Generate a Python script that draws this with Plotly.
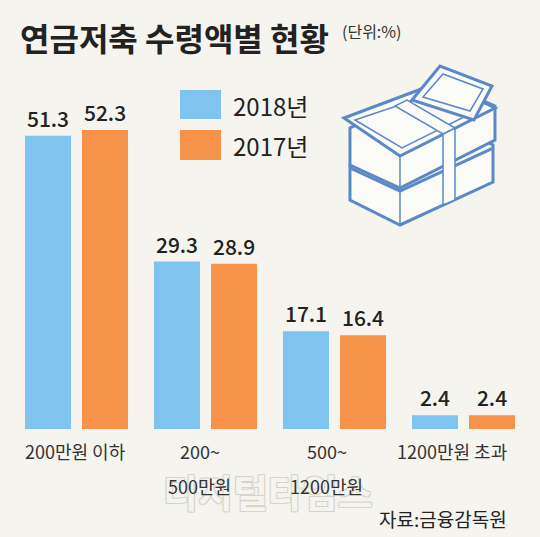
import plotly.graph_objects as go

# data
categories = ["200만원 이하", "200~500만원", "500~1200만원", "1200만원 초과"]
tick_line1 = ["200만원 이하", "200~", "500~", "1200만원 초과"]
tick_line2 = ["", "500만원", "1200만원", ""]
values_2018 = [51.3, 29.3, 17.1, 2.4]
values_2017 = [52.3, 28.9, 16.4, 2.4]

BG = "#f5f4ee"
BLUE = "#7ec4ef"
ORANGE = "#f7924a"
INK = "#5b89c7"
FONT = "Noto Sans CJK KR"

# plot area in pixels (540x537 canvas)
L, R, T, B = 12, 12, 86, 108
W, H = 540, 537
PW, PH = W - L - R, H - T - B

# the source's category labels sit a little left of each group's centre
label_shift = [-1, -6, -8, -12]


def px(x, y):
    # pixel position -> paper coords
    return (x - L) / PW, (H - B - y) / PH


def path(points, close=True):
    parts = []
    for i, (x, y) in enumerate(points):
        u, v = px(x, y)
        parts.append(("M" if i == 0 else "L") + f"{u:.4f},{v:.4f}")
    return " ".join(parts) + (" Z" if close else "")


fig = go.Figure()

fig.add_trace(
    go.Bar(
        x=categories,
        y=values_2018,
        name="2018년",
        marker=dict(color=BLUE, line_width=0),
        text=[f"{v:.1f}" for v in values_2018],
        textposition="outside",
        textfont=dict(family=FONT, size=21, color="#222", weight=500),
        cliponaxis=False,
    )
)
fig.add_trace(
    go.Bar(
        x=categories,
        y=values_2017,
        name="2017년",
        marker=dict(color=ORANGE, line_width=0),
        text=[f"{v:.1f}" for v in values_2017],
        textposition="outside",
        textfont=dict(family=FONT, size=21, color="#222", weight=500),
        cliponaxis=False,
    )
)

# money stack illustration
shapes = []
line = dict(color=INK, width=3)
thin = dict(color=INK, width=1.5)
# bottom bundle
shapes.append(dict(type="path", path=path([(350, 165), (350, 200), (400, 225), (493, 182), (493, 145), (443, 122)]),
                   line=line, fillcolor="#fbfbf8"))
shapes.append(dict(type="path", path=path([(350, 168), (400, 191), (493, 148)], close=False), line=line))
shapes.append(dict(type="path", path=path([(400, 191), (400, 225)], close=False), line=thin))
# top bundle
shapes.append(dict(type="path", path=path([(350, 128), (350, 165), (400, 188), (495, 140), (495, 106), (445, 84)]),
                   line=line, fillcolor="#fbfbf8"))
shapes.append(dict(type="path", path=path([(400, 155), (400, 188)], close=False), line=thin))
# flat bill on top
shapes.append(dict(type="path", path=path([(344, 118), (400, 156), (495, 108), (440, 82)]),
                   line=line, fillcolor="#fbfbf8"))
shapes.append(dict(type="path", path=path([(355, 120), (402, 148), (478, 110), (438, 92)]),
                   line=thin))
# raised bill
shapes.append(dict(type="path", path=path([(412, 100), (440, 66), (492, 86), (474, 120)]),
                   line=line, fillcolor="#fbfbf8"))
shapes.append(dict(type="path", path=path([(423, 97), (443, 74), (483, 89), (470, 111)]),
                   line=thin))
# band
shapes.append(dict(type="path", path=path([(443, 134), (455, 128), (455, 200), (443, 205)]),
                   line=thin, fillcolor="#fbfbf8"))
shapes.append(dict(type="path", path=path([(443, 134), (455, 128), (407, 100), (395, 106)]),
                   line=thin, fillcolor="#fbfbf8"))

# legend swatches
for (y0, y1), col in [((90, 119), BLUE), ((130, 160), ORANGE)]:
    u0, v0 = px(180, y1)
    u1, v1 = px(221, y0)
    shapes.append(dict(type="rect", xref="paper", yref="paper", x0=u0, x1=u1, y0=v0, y1=v1,
                       fillcolor=col, line_width=0))

for s in shapes:
    s.setdefault("xref", "paper")
    s.setdefault("yref", "paper")
    s["layer"] = "above"

annotations = []


def note(text, x, y, size, color="#222", weight=400, xanchor="left", **kw):
    u, v = px(x, y)
    annotations.append(dict(text=text, x=u, y=v, xref="paper", yref="paper",
                            xanchor=xanchor, yanchor="middle", showarrow=False,
                            font=dict(family=FONT, size=size, color=color, weight=weight, **kw)))


# watermark
edge = "#d6d4ca"
note("디지털타임스", 268, 490, 38, color=BG, weight=700, xanchor="center",
     shadow=f"-1px -1px 0 {edge}, 1px -1px 0 {edge}, -1px 1px 0 {edge}, 1px 1px 0 {edge}")

note("연금저축 수령액별 현황", 18, 37, 32, weight=700)
note("(단위:%)", 340, 31, 16, color="#333")
note("2018년", 231, 105, 24)
note("2017년", 231, 145, 24)
note("자료:금융감독원", 377, 518, 19, color="#222")

# category labels, two lines
for cat, t1, t2, dx in zip(categories, tick_line1, tick_line2, label_shift):
    for txt, dy in [(t1, -22), (t2, -57)]:
        if txt:
            annotations.append(dict(text=txt, x=cat, y=0, xref="x", yref="y",
                                    xshift=dx, yshift=dy,
                                    xanchor="center", yanchor="middle", showarrow=False,
                                    font=dict(family=FONT, size=18, color="#333")))

fig.update_layout(
    width=W,
    height=H,
    margin=dict(l=L, r=R, t=T, b=B),
    paper_bgcolor=BG,
    plot_bgcolor=BG,
    barmode="group",
    bargap=0.116,
    bargroupgap=0.193,
    showlegend=False,
    shapes=shapes,
    annotations=annotations,
    xaxis=dict(
        showticklabels=False,
        showgrid=False,
        showline=False,
        zeroline=False,
        ticks="",
        automargin=False,
        range=[-0.5, 3.5],
    ),
    yaxis=dict(range=[0, 60], visible=False, automargin=False),
)

# page body has a default 8px margin; drop it so the figure fills the window
fig.write_html(
    "out.html",
    config={"displayModeBar": False},
    post_script="document.body.style.margin='0';",
)
